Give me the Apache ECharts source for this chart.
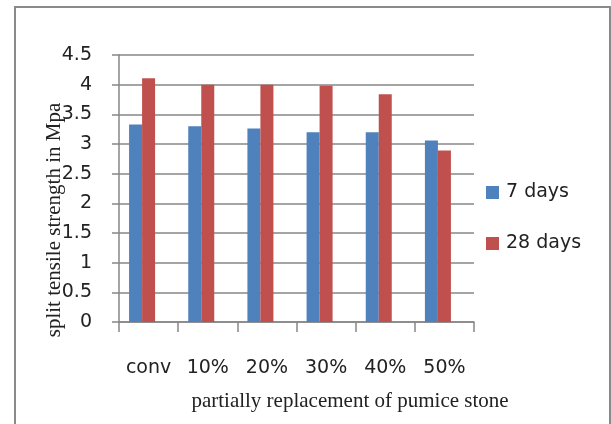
<!DOCTYPE html>
<html>
<head>
<meta charset="utf-8">
<script src="https://cdn.jsdelivr.net/npm/echarts@6/dist/echarts.min.js"></script>
<style>html,body{margin:0;padding:0;background:#fff;}#c{width:611px;height:424px;}</style>
</head>
<body>
<div id="c"></div>
<script>
var categories = ['conv', '10%', '20%', '30%', '40%', '50%'];
var days7 = [3.33, 3.30, 3.26, 3.20, 3.20, 3.06];
var days28 = [4.11, 4.00, 4.00, 3.98, 3.84, 2.89];
var seriesNames = ['7 days', '28 days'];
var xAxisTitle = 'partially replacement of pumice stone';
var yAxisTitle = 'split tensile strength in Mpa';

var chart = echarts.init(document.getElementById('c'), null, {renderer: 'canvas'});
var gray = '#878787';
chart.setOption({
  animation: false,
  backgroundColor: '#fff',
  grid: {left: 119, right: 137, top: 55, bottom: 102, containLabel: false},
  legend: {
    data: seriesNames,
    orient: 'vertical',
    left: 481, top: 178,
    itemWidth: 13, itemHeight: 13, itemGap: 32,
    icon: 'rect',
    textStyle: {fontFamily: 'DejaVu Sans', fontSize: 19, color: '#222', padding: [0,0,0,2]}
  },
  xAxis: {
    type: 'category',
    data: categories,
    axisLine: {lineStyle: {color: gray, width: 1.5}},
    axisTick: {show: true, length: 10, lineStyle: {color: gray, width: 1.5}},
    axisLabel: {margin: 37, fontFamily: 'DejaVu Sans', fontSize: 19, color: '#222', interval: 0}
  },
  yAxis: {
    type: 'value',
    min: 0, max: 4.5, interval: 0.5,
    axisLine: {show: true, lineStyle: {color: gray, width: 1.5}},
    axisTick: {show: true, length: 7, lineStyle: {color: gray, width: 1.5}},
    splitLine: {lineStyle: {color: gray, width: 1.5}},
    axisLabel: {margin: 27, fontFamily: 'DejaVu Sans', fontSize: 19, color: '#222'}
  },
  series: [
    {name: seriesNames[0], type: 'bar', data: days7, barWidth: 13, barGap: '0%', itemStyle: {color: '#4F81BD'}},
    {name: seriesNames[1], type: 'bar', data: days28, barWidth: 13, barGap: '0%', itemStyle: {color: '#C0504D'}},
    {name: 'spacer', type: 'bar', data: categories.map(function(){return null;}), barWidth: 13, barGap: '0%', silent: true}
  ],
  graphic: [
    {type: 'rect', shape: {x: 15, y: 7, width: 595, height: 430}, style: {fill: 'none', stroke: '#8a8a8a', lineWidth: 2}, silent: true},
    {type: 'text', x: 350, y: 401, style: {text: xAxisTitle, font: '21px "Liberation Serif"', fill: '#222', textAlign: 'center', textVerticalAlign: 'middle'}},
    {type: 'text', x: 54, y: 220, rotation: Math.PI / 2, style: {text: yAxisTitle, font: '21px "Liberation Serif"', fill: '#222', textAlign: 'center', textVerticalAlign: 'middle'}}
  ]
});
</script>
</body>
</html>
